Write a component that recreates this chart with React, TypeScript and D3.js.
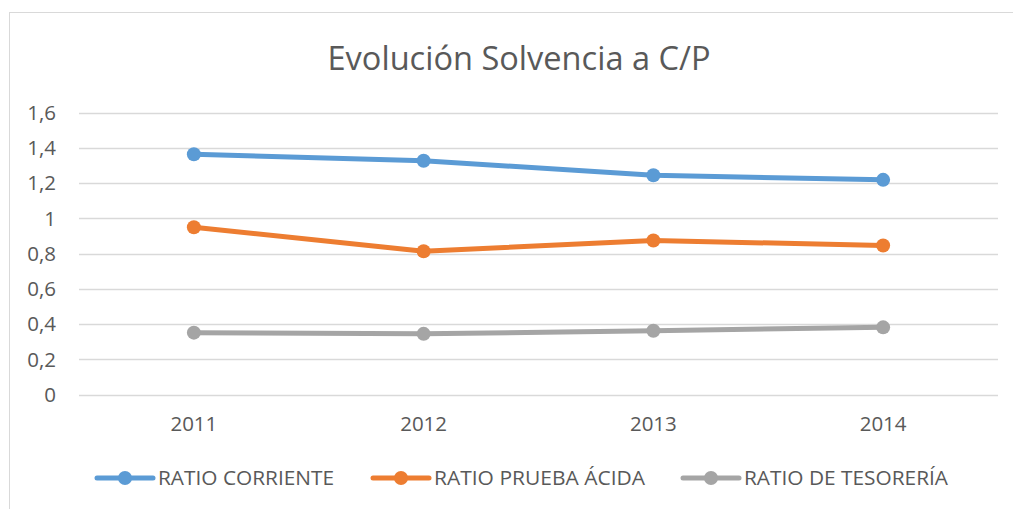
import React from "react";
import * as d3 from "d3";

const categories = ["2011", "2012", "2013", "2014"];
const ratioCorriente = [1.363, 1.326, 1.244, 1.218];
const ratioPruebaAcida = [0.949, 0.813, 0.874, 0.845];
const ratioTesoreria = [0.351, 0.344, 0.362, 0.381];
const seriesNames = ["RATIO CORRIENTE", "RATIO PRUEBA ÁCIDA", "RATIO DE TESORERÍA"];
const seriesColors = ["#5B9BD5", "#ED7D31", "#A5A5A5"];
const yTicks = [0, 0.2, 0.4, 0.6, 0.8, 1, 1.2, 1.4, 1.6];
const title = "Evolución Solvencia a C/P";

const W = 1013;
const H = 509;
const FONT = "'Open Sans', 'Liberation Sans', sans-serif";

export default function App() {
  const x = d3.scaleBand<string>().domain(categories).range([79, 998]);
  const y = d3.scaleLinear().domain([0, 1.6]).range([394.5, 112.5]);
  const fmt = (v: number) => d3.format(".1f")(v).replace(".", ",").replace(/,0$/, "");
  const series = [ratioCorriente, ratioPruebaAcida, ratioTesoreria];
  const line = d3
    .line<number>()
    .x((_, i) => (x(categories[i]) as number) + x.bandwidth() / 2)
    .y((d) => y(d));
  const legendX = [97, 373, 683];
  const legendTextLen = [176, 211, 204];
  const legendY = 478;

  return (
    <svg
      width={W}
      height={H}
      style={{ position: "absolute", left: 0, top: 0, background: "#fff" }}
      fontFamily={FONT}
    >
      <rect x={9.5} y={12.5} width={W + 20} height={H + 20} fill="#fff" stroke="#D9D9D9" strokeWidth={1} />
      <text x={519} y={70} textAnchor="middle" fontSize={33} fill="#595959" textLength={383} lengthAdjust="spacingAndGlyphs">
        {title}
      </text>
      {yTicks.map((t) => (
        <g key={t}>
          <line x1={79} x2={998} y1={Math.round(y(t)) + 0.5} y2={Math.round(y(t)) + 0.5} stroke="#D9D9D9" strokeWidth={1.3} />
          <text x={56} y={y(t)} dy="0.36em" textAnchor="end" fontSize={20.5} fill="#595959">
            {fmt(t)}
          </text>
        </g>
      ))}
      {categories.map((c) => (
        <text key={c} x={(x(c) as number) + x.bandwidth() / 2} y={431} textAnchor="middle" fontSize={20.5} fill="#595959">
          {c}
        </text>
      ))}
      {series.map((s, si) => (
        <g key={si}>
          <path d={line(s) || ""} fill="none" stroke={seriesColors[si]} strokeWidth={5} strokeLinejoin="round" strokeLinecap="round" />
          {s.map((v, i) => (
            <circle key={i} cx={(x(categories[i]) as number) + x.bandwidth() / 2} cy={y(v)} r={7} fill={seriesColors[si]} />
          ))}
        </g>
      ))}
      {seriesNames.map((n, i) => (
        <g key={n} transform={`translate(${legendX[i]},${legendY})`}>
          <line x1={0} x2={56} y1={0} y2={0} stroke={seriesColors[i]} strokeWidth={5} strokeLinecap="round" />
          <circle cx={28} cy={0} r={7} fill={seriesColors[i]} />
          <text x={61} y={0} dy="0.36em" fontSize={20.5} fill="#595959" textLength={legendTextLen[i]} lengthAdjust="spacingAndGlyphs">
            {n}
          </text>
        </g>
      ))}
    </svg>
  );
}
